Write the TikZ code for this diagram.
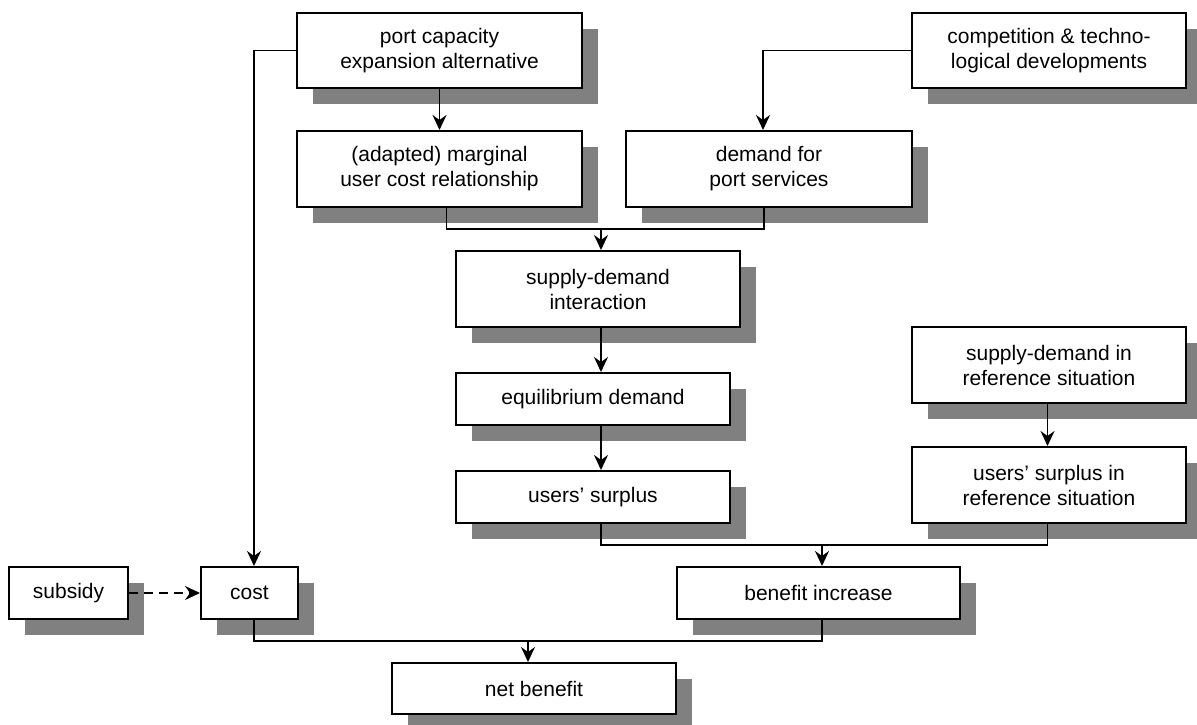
\documentclass[tikz,border=0pt]{standalone}
\usepackage{fontspec}
\setmainfont{Liberation Sans}
\usetikzlibrary{shadows,arrows.meta,calc}
\tikzset{
  box/.style={draw, line width=2pt, fill=white, align=center, inner sep=0pt,
    font=\fontsize{21}{25}\selectfont,
    drop shadow={shadow xshift=16pt, shadow yshift=-16pt, fill=black!50, opacity=1}},
  conn/.style={line width=1.9pt},
  arr/.style={conn, -{Stealth[length=15pt,width=14pt,inset=5pt]}},
  dasharr/.style={arr, dash pattern=on 9pt off 6pt},
}
\begin{document}
\begin{tikzpicture}[x=1pt,y=-1pt]
\useasboundingbox (0,0) rectangle (1197,725);
% boxes
\node[box, minimum width=285pt, minimum height=75pt] (port) at (439.5,50.5) {port capacity\\expansion alternative};
\node[box, minimum width=274pt, minimum height=75pt] (comp) at (1049,50.5) {competition \& techno-\\logical developments};
\node[box, minimum width=285pt, minimum height=76pt] (marg) at (439.5,169) {(adapted) marginal\\user cost relationship};
\node[box, minimum width=286pt, minimum height=76pt] (dem) at (769,169) {demand for\\port services};
\node[box, minimum width=284pt, minimum height=76pt] (sdi) at (598,289) {supply-demand\\interaction};
\node[box, minimum width=274pt, minimum height=52pt] (eq) at (593,399) {equilibrium demand};
\node[box, minimum width=274pt, minimum height=52pt] (us) at (593,497) {users’ surplus};
\node[box, minimum width=274pt, minimum height=76pt] (sdr) at (1049,365) {supply-demand in\\reference situation};
\node[box, minimum width=274pt, minimum height=76pt] (usr) at (1049,485) {users’ surplus in\\reference situation};
\node[box, minimum width=119pt, minimum height=52pt] (sub) at (68.5,593) {subsidy};
\node[box, minimum width=97pt, minimum height=52pt] (cost) at (249.5,593) {cost};
\node[box, minimum width=283pt, minimum height=52pt] (ben) at (818.5,593) {benefit increase};
\node[box, minimum width=284pt, minimum height=51pt] (net) at (534,688.5) {net benefit};
% junctions
\coordinate (j1) at (601,229);
\coordinate (j2) at (822,545);
\coordinate (j3) at (528,641);
% connectors
\draw[arr] (port) -- (marg);
\draw[arr] (port.west) -| ([xshift=4.5pt]cost.north);
\draw[arr] (comp.west) -| ([xshift=-6pt]dem.north);
\draw[conn] ([xshift=7pt]marg.south) |- (j1) -| ([xshift=-5pt]dem.south);
\draw[arr] (j1) -- (j1 |- sdi.north);
\draw[arr] (j1 |- sdi.south) -- (j1 |- eq.north);
\draw[arr] (j1 |- eq.south) -- (j1 |- us.north);
\draw[arr] ([xshift=-1.5pt]sdr.south) -- ([xshift=-1.5pt]usr.north);
\draw[conn] (j1 |- us.south) |- (j2) -| ([xshift=-1.5pt]usr.south);
\draw[arr] (j2) -- (j2 |- ben.north);
\draw[conn] (j2 |- ben.south) |- (j3) -| ([xshift=4.5pt]cost.south);
\draw[arr] (j3) -- (j3 |- net.north);
\draw[dasharr] (sub) -- (cost);
\end{tikzpicture}
\end{document}
